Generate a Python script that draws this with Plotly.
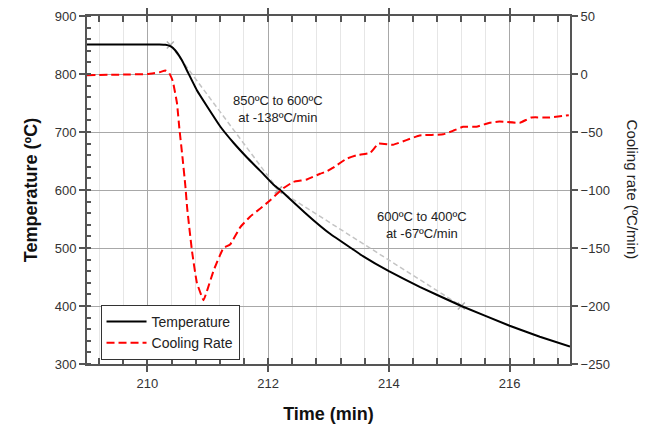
import plotly.graph_objects as go

# Temperature trace (min, ºC)
time_temp = [209.0, 209.5, 210.0, 210.2, 210.3, 210.38, 210.46, 210.57, 210.68, 210.82,
             210.99, 211.21, 211.43, 211.65, 211.87, 212.09, 212.2, 212.47, 212.75, 213.02,
             213.4, 213.57, 214.0, 214.51, 215.2, 216.0, 216.5, 217.0]
temperature = [851, 851, 851, 851, 850.5, 848, 841, 824, 801, 772,
               744, 709, 681, 656, 633, 609, 600, 574, 548, 525,
               498, 486, 460, 433, 400, 366, 347, 330]

# Cooling rate trace (min, ºC/min)
time_rate = [209.0, 209.6, 210.0, 210.2, 210.3, 210.36, 210.42, 210.49, 210.53, 210.58,
             210.63, 210.66, 210.74, 210.82, 210.93, 211.0, 211.1, 211.26, 211.37, 211.54,
             211.7, 211.87, 212.03, 212.25, 212.42, 212.64, 212.86, 212.97, 213.07, 213.3,
             213.47, 213.69, 213.83, 214.07, 214.29, 214.51, 214.9, 215.06, 215.23, 215.45,
             215.67, 215.83, 216.17, 216.36, 216.66, 216.98]
cooling_rate = [-1, -0.5, 0, 1.5, 3, 1, -6, -25, -47, -71,
                -97, -116, -153, -180, -195, -185, -169, -150, -147, -132,
                -123, -116, -109, -98.5, -93, -91, -86, -84, -81, -73,
                -70, -68, -60, -61, -57, -53, -52, -49, -45.5, -45.5,
                -42, -41, -42, -37.5, -37.5, -35.5]

# Fitted segments
fit1_time = [210.38, 212.17]
fit1_temp = [850, 600]
fit2_time = [212.17, 215.2]
fit2_temp = [600, 400]

FONT = 'Arial, Liberation Sans, sans-serif'
AXIS_COLOR = '#555555'

fig = go.Figure()

for xs, ys in [(fit1_time, fit1_temp), (fit2_time, fit2_temp)]:
    fig.add_trace(go.Scatter(
        x=xs, y=ys, mode='lines+markers',
        line=dict(color='#c4c4c4', width=1.5, dash='5px,3px'),
        marker=dict(symbol='x-thin-open', size=7, color='#b0b0b0', line=dict(width=1.5, color='#b0b0b0')),
        showlegend=False, hoverinfo='skip'
    ))

fig.add_trace(go.Scatter(
    x=time_temp, y=temperature, mode='lines', name='Temperature',
    line=dict(color='black', width=2, shape='spline', smoothing=0.3)
))

fig.add_trace(go.Scatter(
    x=time_rate, y=cooling_rate, mode='lines', name='Cooling Rate', yaxis='y2',
    line=dict(color='#ff0000', width=2, dash='8px,4px', shape='spline', smoothing=0.3)
))

fig.add_annotation(x=212.16, y=740, text='850ºC to 600ºC<br>at -138ºC/min', showarrow=False,
                   font=dict(family=FONT, size=13, color='#222'))
fig.add_annotation(x=214.55, y=540, text='600ºC to 400ºC<br>at -67ºC/min', showarrow=False,
                   font=dict(family=FONT, size=13, color='#222'))
fig.add_annotation(x=1.153, y=0.5, xref='paper', yref='paper', text='Cooling rate (ºC/min)',
                   textangle=90, showarrow=False, font=dict(family=FONT, size=15, color='#222'))

# page body has an 8px margin, so the figure is sized to fit inside the window
fig.update_layout(
    width=641, height=419,
    margin=dict(l=79, r=79, t=8, b=63, autoexpand=False),
    plot_bgcolor='white', paper_bgcolor='white',
    font=dict(family=FONT, size=13, color='#222'),
    showlegend=True,
    legend=dict(x=0.028, y=0.17, xanchor='left', yanchor='top',
                bgcolor='white', bordercolor='#333', borderwidth=1,
                font=dict(family=FONT, size=14, color='#222'),
                itemwidth=40, tracegroupgap=0),
    xaxis=dict(
        range=[209, 217], dtick=2, tick0=210, automargin=False,
        showline=True, linecolor=AXIS_COLOR, linewidth=2, mirror='allticks',
        ticks='outside', ticklen=6, tickcolor=AXIS_COLOR, tickwidth=1.5,
        showgrid=True, gridcolor='#a8a8a8', gridwidth=1, zeroline=False,
        minor=dict(dtick=0.4, tick0=210, ticks='inside', ticklen=5, tickcolor=AXIS_COLOR,
                   showgrid=True, gridcolor='#e6e6e6', gridwidth=1),
        title=dict(text='<b>Time (min)</b>', font=dict(family=FONT, size=18, color='#111'), standoff=18),
        tickfont=dict(family=FONT, size=13, color='#333')
    ),
    yaxis=dict(
        range=[300, 900], dtick=100, automargin=False,
        showline=True, linecolor=AXIS_COLOR, linewidth=2,
        ticks='outside', ticklen=6, tickcolor=AXIS_COLOR, tickwidth=1.5,
        showgrid=True, gridcolor='#a8a8a8', gridwidth=1, zeroline=False,
        minor=dict(dtick=20, ticks='inside', ticklen=4, tickcolor=AXIS_COLOR, showgrid=False),
        title=dict(text='<b>Temperature (ºC)</b>', font=dict(family=FONT, size=18, color='#111'), standoff=12),
        tickfont=dict(family=FONT, size=13, color='#333')
    ),
    yaxis2=dict(
        range=[-250, 50], dtick=50, overlaying='y', side='right', automargin=False,
        showline=True, linecolor=AXIS_COLOR, linewidth=2,
        ticks='outside', ticklen=6, tickcolor=AXIS_COLOR, tickwidth=1.5,
        showgrid=False, zeroline=False,
        tickfont=dict(family=FONT, size=13, color='#333')
    )
)

fig.write_html("out.html")
